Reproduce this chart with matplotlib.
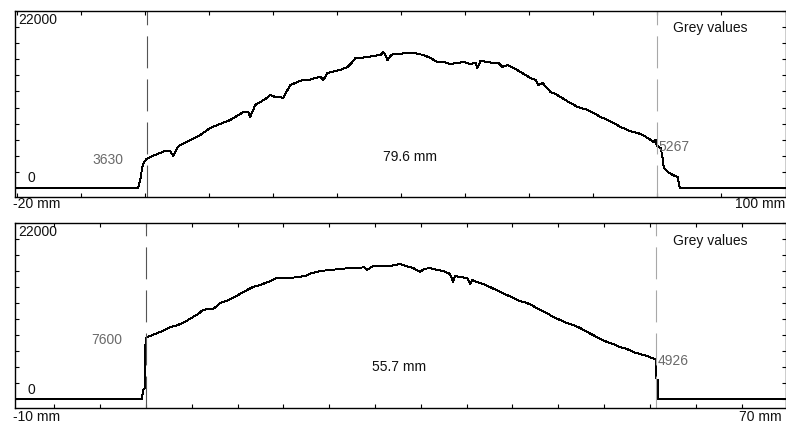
import matplotlib

matplotlib.use("Agg")
import matplotlib.pyplot as plt

FIG_W, FIG_H = 786, 426

# grey value profiles (position in mm, grey value)
top_mm = [-20.3, -1.05, -0.73, -0.42, -0.11, 0.30, 0.83, 1.61, 2.39, 3.17, 3.95, 4.42, 5.05, 5.52,
          7.08, 8.64, 10.20, 11.77, 13.33, 14.89, 15.36, 16.14, 16.45, 16.77, 17.23, 18.02, 18.80,
          19.58, 20.36, 21.14, 21.61, 22.08, 22.70, 23.48, 24.58, 25.52, 26.61, 27.39, 27.86, 28.48,
          29.73, 30.52, 31.61, 32.39, 32.86, 33.64, 34.73, 35.67, 36.77, 37.23, 37.55, 37.86, 38.33,
          38.80, 39.89, 40.67, 41.92, 42.70, 43.48, 44.58, 45.67, 46.61, 47.70, 48.80, 49.73, 50.83,
          51.61, 51.92, 52.39, 53.48, 54.42, 55.20, 55.83, 56.61, 57.86, 59.42, 60.20, 60.98, 61.45,
          62.08, 63.33, 64.11, 64.89, 66.14, 67.55, 69.11, 70.05, 71.14, 72.23, 73.17, 74.27, 75.36,
          76.14, 76.92, 77.70, 78.48, 79.42, 79.73, 79.90, 80.52, 80.83, 80.98, 81.30, 81.61, 82.39,
          83.17, 83.48, 83.64, 100.0]
top_grey = [0, 0, 990, 2490, 3230, 3630, 3850, 4100, 4350, 4600, 4600, 3980, 4970, 5350,
            5970, 6590, 7460, 7960, 8450, 9200, 9450, 9450, 8830, 9450, 10320, 10690, 11060,
            11560, 11310, 11310, 11190, 11930, 12800, 13050, 13420, 13420, 13670, 13800, 13420, 14300,
            14540, 14670, 15040, 15660, 16160, 16160, 16280, 16410, 16530, 16910, 16530, 15910, 16410,
            16660, 16660, 16780, 16780, 16660, 16530, 16160, 15660, 15660, 15410, 15540, 15660, 15410,
            15540, 14920, 15790, 15660, 15540, 15540, 15040, 15290, 14790, 14050, 13670, 13420, 12800,
            13050, 11930, 11680, 11310, 10690, 10070, 9700, 9320, 8830, 8450, 8080, 7580, 7210,
            6960, 6840, 6590, 6220, 5720, 5970, 5267, 4970, 3730, 2610, 2240, 1990, 1620,
            1370, 120, 0, 0]

bottom_mm = [-14.3, -0.44, -0.33, -0.11, -0.05, 0.0, 0.11, 0.44, 0.98, 1.53, 2.07, 2.62, 3.17, 4.04,
             4.59, 5.13, 5.68, 6.22, 6.77, 7.31, 7.75, 8.08, 8.73, 9.50, 10.26, 11.03, 11.68, 12.45,
             13.32, 14.30, 14.96, 15.72, 16.59, 17.36, 18.12, 19.00, 20.09, 21.18, 22.27, 23.36, 23.80,
             24.13, 24.78, 25.55, 26.64, 27.18, 27.73, 28.38, 29.15, 29.91, 30.35, 31.00, 31.77, 32.42,
             33.19, 33.52, 33.73, 34.28, 35.04, 35.37, 35.59, 36.14, 36.79, 37.55, 38.65, 39.41, 40.07,
             40.83, 41.59, 42.25, 43.01, 43.78, 44.43, 45.20, 45.96, 46.62, 47.38, 48.14, 48.80, 49.56,
             50.33, 50.98, 51.75, 52.51, 53.17, 53.93, 54.69, 55.24, 55.70, 55.72, 55.85, 55.90, 70.0]
bottom_grey = [0, 0, 1130, 1380, 7600, 7600, 7750, 7880, 8130, 8380, 8630, 9000, 9130, 9500,
               9880, 10250, 10630, 11130, 11250, 11250, 11630, 12000, 12250, 12630, 13130, 13630, 14000, 14250,
               14630, 15130, 15130, 15130, 15250, 15380, 15750, 16000, 16130, 16250, 16380, 16380, 16500,
               16130, 16630, 16630, 16630, 16750, 16880, 16630, 16380, 15880, 16250, 16380, 16130, 16000,
               15630, 14630, 15380, 15250, 15130, 14380, 14880, 14630, 14380, 14000, 13380, 13000, 12630,
               12250, 12000, 11630, 11130, 10750, 10250, 9880, 9500, 9250, 8880, 8380, 8000, 7500,
               7130, 6880, 6500, 6250, 5880, 5630, 5380, 5130, 4926, 2380, 2380, 0, 0]

# cursor positions (mm) and the grey values shown at them
top_cursors = [0.3, 79.9]
top_cursor_labels = ["3630", "5267"]
top_cursor_values = [3630, 5267]
top_width_label = "79.6 mm"
bottom_cursors = [0.0, 55.7]
bottom_cursor_labels = ["7600", "4926"]
bottom_cursor_values = [7600, 4926]
bottom_width_label = "55.7 mm"

top_xticks = list(range(-20, 101, 10))
bottom_xticks = list(range(-10, 66, 5))
yticks = list(range(0, 22001, 2000))
top_xlim = (-20.27, 100.0)
bottom_xlim = (-14.3, 69.8)
top_range_labels = ["-20 mm", "100 mm"]
bottom_range_labels = ["-10 mm", "70 mm"]

plt.rcParams["font.family"] = ["Liberation Sans", "DejaVu Sans"]
plt.rcParams["lines.scale_dashes"] = False

TEXT = "#111111"
LABEL_GREY = "#6a6a6a"


def fig_xy(px, py):
    return px / FIG_W, 1 - py / FIG_H


def draw_panel(fig, rect, mm, grey, xlim, xticks, cursors, cursor_labels, cursor_values):
    ax = fig.add_axes(rect)
    ax.plot(mm, grey, color="black", linewidth=0.7, antialiased=False)
    ax.set_xlim(*xlim)
    ax.set_ylim(-1120, 22000)
    ax.set_xticks(xticks)
    ax.set_yticks(yticks)
    ax.tick_params(direction="in", length=3, width=0.8, top=True, right=True,
                   labelbottom=False, labelleft=False, color="black")
    for spine in ax.spines.values():
        spine.set_linewidth(1.0)
        spine.set_color("black")

    for cur, colour in zip(cursors, ["#555555", "#a8a8a8"]):
        ax.axvline(cur, color=colour, linewidth=0.8, dashes=(23, 8))

    left_lbl, right_lbl = cursor_labels
    ax.annotate(left_lbl, xy=(cursors[0], cursor_values[0]), xytext=(-17, -1.2),
                textcoords="offset points", ha="right", va="center", fontsize=10, color=LABEL_GREY)
    ax.annotate(right_lbl, xy=(cursors[1], cursor_values[1]), xytext=(1.2, -1.2),
                textcoords="offset points", ha="left", va="center", fontsize=10, color=LABEL_GREY)
    return ax


def main() -> None:
    fig = plt.figure(figsize=(FIG_W / 100, FIG_H / 100), dpi=100)

    left = 15 / FIG_W
    width = 770.5 / FIG_W
    top_rect = [left, 1 - 197 / FIG_H, width, 186 / FIG_H]
    bottom_rect = [left, 1 - 408 / FIG_H, width, 185 / FIG_H]

    draw_panel(fig, top_rect, top_mm, top_grey, top_xlim, top_xticks,
               top_cursors, top_cursor_labels, top_cursor_values)
    draw_panel(fig, bottom_rect, bottom_mm, bottom_grey, bottom_xlim, bottom_xticks,
               bottom_cursors, bottom_cursor_labels, bottom_cursor_values)

    kw = dict(fontsize=10, color=TEXT, va="center")
    # top panel texts
    fig.text(*fig_xy(18, 20), "22000", ha="left", **kw)
    fig.text(*fig_xy(28, 178), "0", ha="left", **kw)
    fig.text(*fig_xy(673, 28), "Grey values", ha="left", **kw)
    fig.text(*fig_xy(410, 157), top_width_label, ha="center", **kw)
    fig.text(*fig_xy(13, 204), top_range_labels[0], ha="left", **kw)
    fig.text(*fig_xy(785, 204), top_range_labels[1], ha="right", **kw)
    # bottom panel texts
    fig.text(*fig_xy(18, 232), "22000", ha="left", **kw)
    fig.text(*fig_xy(28, 390), "0", ha="left", **kw)
    fig.text(*fig_xy(673, 241), "Grey values", ha="left", **kw)
    fig.text(*fig_xy(399, 367), bottom_width_label, ha="center", **kw)
    fig.text(*fig_xy(13, 417), bottom_range_labels[0], ha="left", **kw)
    fig.text(*fig_xy(782, 417), bottom_range_labels[1], ha="right", **kw)

    fig.savefig("out.png", dpi=100, facecolor="white")


if __name__ == "__main__":
    main()
